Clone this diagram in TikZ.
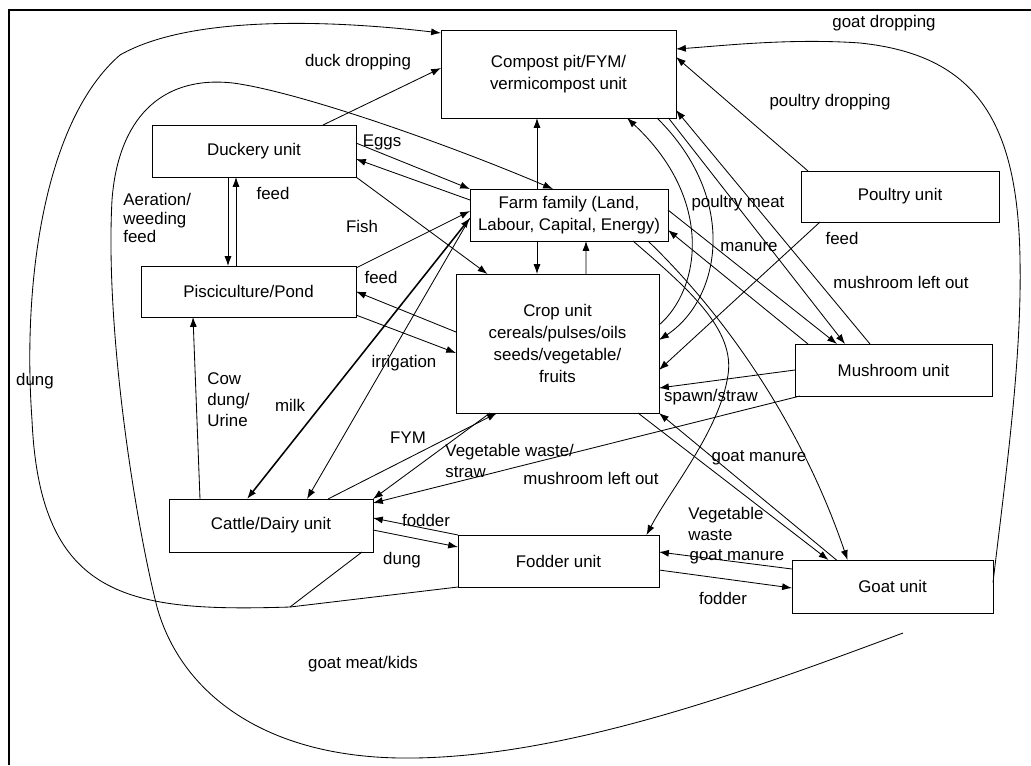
\documentclass[tikz,border=0pt]{standalone}
\usepackage{fontspec}
\setmainfont{Liberation Sans}
\usetikzlibrary{arrows.meta}
\newlength\px
\setlength\px{0.025cm}
\tikzset{unit/.style={draw, rectangle, inner sep=0pt, outer sep=0pt, align=center, font=\fontsize{12}{15.5}\selectfont},
  lbl/.style={inner sep=0pt, font=\fontsize{12}{15}\selectfont}}

\begin{document}
\begin{tikzpicture}[x=0.025cm, y=-0.025cm, line width=0.6pt, >={Latex[length=7pt,width=5pt]}]
\useasboundingbox (0,0) rectangle (1031,765);
\draw[line width=1pt] (9,765) -- (9,10) -- (1031,10);
% units
\node[unit, minimum width=235\px, minimum height=88\px] (compost) at (558.5,74) {Compost pit/FYM/\\vermicompost unit};
\node[unit, minimum width=204\px, minimum height=52\px] (duck) at (254,151) {Duckery unit};
\node[unit, minimum width=198\px, minimum height=52\px] (farm) at (569,215) {Farm family (Land,\\Labour, Capital, Energy)};
\node[unit, minimum width=198\px, minimum height=51\px] (poultry) at (900,196.5) {Poultry unit};
\node[unit, minimum width=215\px, minimum height=51\px] (pond) at (248.5,291.5) {Pisciculture/Pond};
\node[unit, minimum width=203\px, minimum height=139\px] (crop) at (557.5,343.5) {Crop unit\\cereals/pulses/oils\\seeds/vegetable/\\fruits};
\node[unit, minimum width=197\px, minimum height=52\px] (mush) at (893.5,370) {Mushroom unit};
\node[unit, minimum width=204\px, minimum height=53\px] (cattle) at (271,525.5) {Cattle/Dairy unit};
\node[unit, minimum width=201\px, minimum height=52\px] (fodder) at (558.5,561) {Fodder unit};
\node[unit, minimum width=201\px, minimum height=53\px] (goat) at (892.5,586.5) {Goat unit};
\coordinate (dungjoin) at (290,607);
\coordinate (kids) at (903,633);
% duckery and pond
\draw[->] ([xshift=69\px]duck.north) -- ([yshift=6\px]compost.west);
\draw[->] ([yshift=8\px]duck.east) -- (farm.north west);
\draw[->] ([yshift=15\px]farm.west) -- ([yshift=-8\px]duck.east);
\draw[->] (duck.south east) -- ([xshift=-70\px]crop.north);
\draw[->] ([xshift=-26\px]duck.south) -- ([xshift=-20.5\px]pond.north);
\draw[->] ([xshift=-12.5\px]pond.north) -- ([xshift=-18\px]duck.south);
\draw[->] ([yshift=23.5\px]pond.east) -- ([yshift=4\px]farm.west);
\draw[->] ([yshift=11.5\px]crop.west) -- (pond.east);
\draw[->] ([yshift=-23.5\px]pond.east) -- ([yshift=-9.5\px]crop.west);
% cattle and fodder
\draw[->] ([xshift=-71\px]cattle.north) -- ([xshift=-55.5\px]pond.south);
\draw[<->, line width=1.1pt] ([yshift=-3\px]farm.west) -- ([xshift=-24\px]cattle.north);
\draw[->] ([yshift=-3\px]farm.west) -- ([xshift=36\px]cattle.north);
\draw[->] ([xshift=57\px]cattle.north) -- ([xshift=-60.5\px]crop.south);
\draw[->] ([xshift=-67.5\px]crop.south) -- (cattle.north east);
\draw[->] ([xshift=5\px]mush.south west) -- ([yshift=-4\px]cattle.north east);
\draw[->] (fodder.north west) -- ([yshift=7.5\px]cattle.east);
\draw[->] ([yshift=-4.5\px]cattle.east) -- ([yshift=14\px]fodder.west);
\draw[->] ([yshift=17.5\px]goat.west) -- ([yshift=9\px]fodder.east);
\draw[->] ([yshift=-9\px]fodder.east) -- ([yshift=-1.5\px]goat.west);
% farm, compost, crop
\draw[->] ([xshift=-32\px]farm.north) -- ([xshift=-21.5\px]compost.south);
\draw[->] ([xshift=-32\px]farm.south) -- ([xshift=-20.5\px]crop.north);
\draw[->] ([xshift=28.5\px]crop.north) -- ([xshift=17\px]farm.south);
\draw[->] ([yshift=18.5\px]crop.east) .. controls (700,290) and (715,200) .. ([xshift=68.5\px]compost.south);
\draw[->] ([xshift=98.5\px]compost.south) .. controls (740,200) and (720,300) .. ([yshift=3.5\px]crop.east);
% mushroom and poultry
\draw[->] ([xshift=110\px]compost.south) -- ([xshift=-48.5\px]mush.north);
\draw[->] ([xshift=-23.5\px]mush.north) -- ([yshift=8\px]compost.south east);
\draw[->] ([yshift=5\px]farm.east) -- ([xshift=-56.5\px]mush.north);
\draw[->] ([xshift=-85.5\px]mush.north) -- ([yshift=-15\px]farm.east);
\draw[->] ([xshift=-80\px]poultry.south) -- ([yshift=-26.5\px]crop.east);
\draw[->] ([xshift=-92\px]poultry.north) -- ([yshift=17\px]compost.east);
\draw[->] (mush.west) -- ([yshift=-44.5\px]crop.east);
% goat
\draw[->] ([xshift=80.5\px]crop.south) -- ([xshift=-64\px]goat.north);
\draw[->] ([xshift=-56\px]goat.north) -- (crop.south east);
\draw[->] ([xshift=79\px]farm.south) .. controls (720,310) and (800,420) .. ([xshift=-45\px]goat.north);
\draw[->] ([xshift=64\px]farm.south) .. controls (690,290) and (735,330) .. (728,375) .. controls (720,430) and (670,490) .. ([xshift=88\px]fodder.north);
\draw[->] ([yshift=4\px]goat.east) .. controls (1005,480) and (1022,360) .. (1020,260) .. controls (1018,120) and (975,55) .. (860,43) .. controls (790,38) and (720,46) .. ([yshift=25\px]compost.east);
% long loops
\draw[->] (fodder.south west) -- (dungjoin) .. controls (130,612) and (40,600) .. (32,420) .. controls (22,280) and (45,120) .. (120,55) .. controls (190,15) and (330,20) .. ([yshift=-3\px]compost.north west);
\draw ([xshift=-11\px]cattle.south east) -- (dungjoin);
\draw[->] (kids) .. controls (750,690) and (560,760) .. (400,758) .. controls (260,756) and (180,690) .. (157,607) .. controls (135,520) and (105,330) .. (112,200) .. controls (118,120) and (160,75) .. (233,83) .. controls (300,92) and (450,145) .. ([xshift=-16\px]farm.north);
% labels
\node[lbl] (tDuckDrop) at (358,62) {duck dropping};
\node[lbl] (tGoatDrop) at (884,23) {goat dropping};
\node[lbl] (tPoultryDrop) at (830,102) {poultry dropping};
\node[lbl] (tEggs) at (382,142) {Eggs};
\node[lbl] (tDuckFeed) at (273,193) {feed};
\node[lbl, align=left, anchor=west, font=\fontsize{12}{13}\selectfont] (tAeration) at (123,218) {Aeration/\\weeding\\feed};
\node[lbl] (tFish) at (362,226) {Fish};
\node[lbl] (tPondFeed) at (381,277) {feed};
\node[lbl] (tIrrigation) at (404,363) {irrigation};
\node[lbl, align=left, anchor=west] (tCowDung) at (207,400) {Cow\\dung/\\Urine};
\node[lbl] (tMilk) at (290,405) {milk};
\node[lbl] (tFYM) at (408,438) {FYM};
\node[lbl, align=left, anchor=west] (tVegStraw) at (445,461) {Vegetable waste/\\straw};
\node[lbl] (tMushCattle) at (591,478) {mushroom left out};
\node[lbl] (tCattleFodder) at (426,520) {fodder};
\node[lbl] (tCattleDung) at (402,560) {dung};
\node[lbl] (tKids) at (363,664) {goat meat/kids};
\node[lbl] (tDung) at (35,381) {dung};
\node[lbl, align=left, anchor=west] (tVegWaste) at (688,524) {Vegetable\\waste};
\node[lbl] (tGoatFodder) at (737,557) {goat manure};
\node[lbl] (tFodderGoat) at (723,598) {fodder};
\node[lbl] (tGoatManure) at (759,458) {goat manure};
\node[lbl] (tSpawn) at (711,397) {spawn/straw};
\node[lbl] (tMushLeft) at (901,282) {mushroom left out};
\node[lbl] (tPoultryFeed) at (842,238) {feed};
\node[lbl] (tManure) at (749,247) {manure};
\node[lbl] (tPoultryMeat) at (738,203) {poultry meat};
\end{tikzpicture}
\end{document}
